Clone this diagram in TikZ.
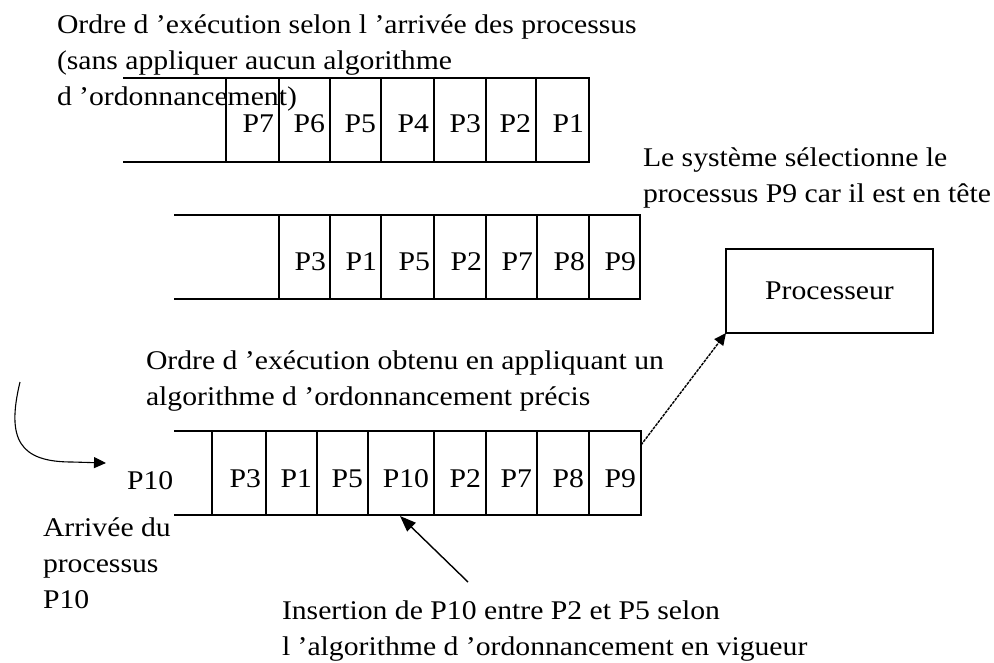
\documentclass[tikz,border=0pt]{standalone}
\usepackage{fontspec}
\setmainfont{Liberation Serif}[FakeStretch=1.1]
\usetikzlibrary{arrows.meta}

\begin{document}
\begin{tikzpicture}[x=1pt,y=-1pt,
  every node/.style={inner sep=0pt, outer sep=0pt, font=\fontsize{27}{36}\selectfont},
  queue/.style={line width=1.4pt},
  lbl/.style={anchor=base east},
  caption/.style={anchor=base west, align=left},
  tip/.style={-{Triangle[length=12pt,width=11pt]}},
]
\useasboundingbox (0,0) rectangle (994,662);

% Queue 1: arrival order
\draw[queue] (123,78) -- (589,78) -- (589,162) -- (123,162);
\foreach \x in {226,279,330,381,434,486,536}
  \draw[queue] (\x,78) -- (\x,162);
\foreach \t/\x [count=\i] in {P7/279,P6/330,P5/381,P4/434,P3/486,P2/536,P1/589}
  \node[lbl] (a\i) at (\x-5,132) {\t};

% Queue 2: scheduled order
\draw[queue] (174,215) -- (640,215) -- (640,299) -- (174,299);
\foreach \x in {279,330,381,434,486,537,589}
  \draw[queue] (\x,215) -- (\x,299);
\foreach \t/\x [count=\i] in {P3/330,P1/381,P5/434,P2/486,P7/537,P8/589,P9/640}
  \node[lbl] (b\i) at (\x-4,270) {\t};

% Queue 3: after inserting P10
\draw[queue] (174,431) -- (641,431) -- (641,515) -- (174,515);
\foreach \x in {212,266,317,368,434,486,537,589}
  \draw[queue] (\x,431) -- (\x,515);
\foreach \t/\x [count=\i] in {P3/266,P1/317,P5/368,P10/434,P2/486,P7/537,P8/589,P9/641}
  \node[lbl] (c\i) at (\x-5,487) {\t};

% Incoming process
\node[anchor=base west] (newp) at (127,489) {P10};

% Processor
\node[draw, line width=1.4pt, minimum width=207pt, minimum height=84pt] (proc) at (829.5,291) {Processeur};

% Captions (anchored on the baseline of their last line)
\node[caption] (t1) at (57,105) {Ordre d 'exécution selon l 'arrivée des processus\\(sans appliquer aucun algorithme\\d 'ordonnancement)};
\node[caption] (t2) at (643,202) {Le système sélectionne le\\processus P9 car il est en tête};
\node[caption] (t3) at (146,405) {Ordre d 'exécution obtenu en appliquant un\\algorithme d 'ordonnancement précis};
\node[caption] (t4) at (43,608) {Arrivée du\\processus\\P10};
\node[caption] (t5) at (282,655) {Insertion de P10 entre P2 et P5 selon\\l 'algorithme d 'ordonnancement en vigueur};

% Connectors
\coordinate (arrStart) at (20,382);
\coordinate (arrEnd) at (106,463);
\draw[line width=1.1pt, tip] (arrStart) .. controls (6,440) and (20,462) .. (72,462) -- (arrEnd);

\coordinate (headP9) at (641,445);
\draw[line width=1.4pt, dash pattern=on 3pt off 1pt, tip] (headP9) -- (proc.south west);

\coordinate (insTail) at (468,582);
\coordinate (insTip) at (400,516);
\draw[line width=1.4pt, -{Triangle[length=16pt,width=12pt]}] (insTail) -- (insTip);
\end{tikzpicture}
\end{document}
